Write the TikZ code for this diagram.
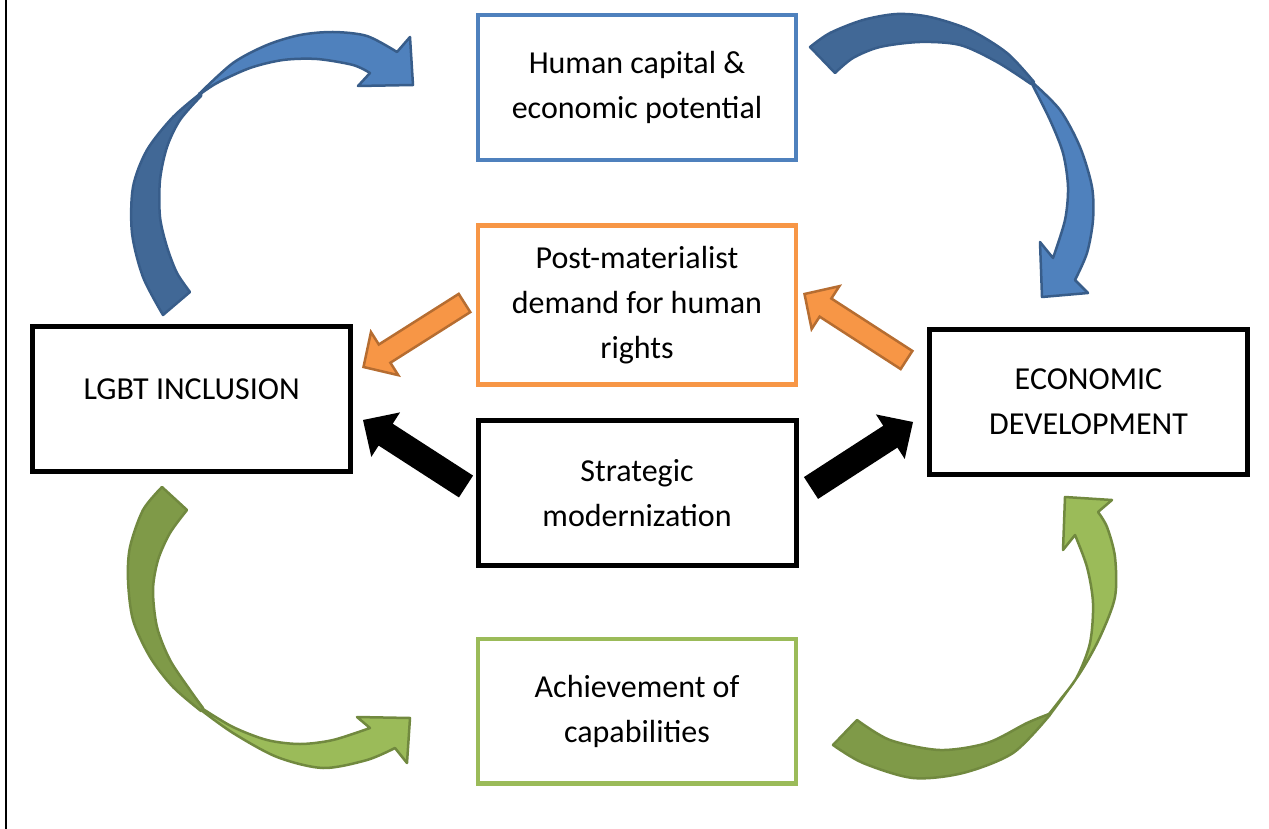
\documentclass[tikz,border=0pt]{standalone}
\usepackage{fontspec}
\setmainfont{Carlito}
\usetikzlibrary{positioning,calc}

\definecolor{AzulClaro}{HTML}{4F81BD}
\definecolor{AzulOscuro}{HTML}{416896}
\definecolor{AzulBorde}{HTML}{385D8A}
\definecolor{Naranja}{HTML}{F79646}
\definecolor{NaranjaBorde}{HTML}{B66D31}
\definecolor{VerdeClaro}{HTML}{9BBB59}
\definecolor{VerdeOscuro}{HTML}{7F9A48}
\definecolor{VerdeBorde}{HTML}{71893F}

\tikzstyle{BaseBox}=[rectangle, draw=black, line width=5pt, minimum width=318pt, minimum height=145pt, inner sep=0pt, align=center, font=\fontsize{32}{45}\selectfont]
\tikzstyle{CapitalBox}=[BaseBox, draw=AzulClaro, line width=4.5pt]
\tikzstyle{DemandBox}=[BaseBox, draw=Naranja, line width=4.5pt, minimum height=159pt]
\tikzstyle{AchieveBox}=[BaseBox, draw=VerdeClaro, line width=4.5pt, minimum height=144.5pt]
\tikzstyle{FlechaNaranja}=[fill=Naranja, draw=NaranjaBorde, line width=2.5pt]
\tikzstyle{FlechaNegra}=[fill=black]
\tikzstyle{FlechaAzul}=[fill=AzulClaro, draw=AzulBorde, line width=2.5pt, line join=round]
\tikzstyle{FlechaAzulOscura}=[FlechaAzul, fill=AzulOscuro]
\tikzstyle{FlechaVerde}=[fill=VerdeClaro, draw=VerdeBorde, line width=2.5pt, line join=round]
\tikzstyle{FlechaVerdeOscura}=[FlechaVerde, fill=VerdeOscuro]

% #1 style, #2 tail, #3 tip, #4 half shaft, #5 half head, #6 head length
\newcommand{\FlechaBloque}[6]{%
	\path[#1] ($(#2)!#4!90:(#3)$)
		-- ($(#3)!#6!(#2)!#4!-90:(#2)$)
		-- ($(#3)!#6!(#2)!#5!-90:(#2)$)
		-- (#3)
		-- ($(#3)!#6!(#2)!#5!90:(#2)$)
		-- ($(#3)!#6!(#2)!#4!90:(#2)$)
		-- ($(#2)!#4!-90:(#3)$) -- cycle;}

\begin{document}
\begin{tikzpicture}[x=1pt, y=-1pt]
			\useasboundingbox (0,0) rectangle (1269,829);
			\draw[line width=2pt] (6,0) -- (6,829);

			%Nodos
			\node[CapitalBox]	(capital)	at (637,87.5)			{Human capital \&\\economic potential};
			\node[DemandBox]	(demand)	[below=61pt of capital]		{Post-materialist\\demand for human\\rights};
			\node[BaseBox]		(strategic)	[below=31.25pt of demand]	{Strategic\\modernization};
			\node[AchieveBox]	(achieve)	[below=68.75pt of strategic]	{Achievement of\\capabilities};
			\node[BaseBox, text depth=21pt]	(lgbt)	at (191.7,399.3)	{LGBT INCLUSION};
			\node[BaseBox]		(econ)		at (1088.5,402)			{ECONOMIC\\DEVELOPMENT};

			\coordinate (demand_src_l)	at (464.5,303);
			\coordinate (lgbt_cons_dem)	at (363.5,367);
			\coordinate (econ_src_dem)	at (906.5,360);
			\coordinate (demand_cons_r)	at (804.5,294);
			\coordinate (strategic_src_l)	at (466,486.5);
			\coordinate (lgbt_cons_str)	at (363,420);
			\coordinate (strategic_src_r)	at (811,488);
			\coordinate (econ_cons_str)	at (913,422);

			%Flechas rectas
			\FlechaBloque{FlechaNaranja}{demand_src_l}{lgbt_cons_dem}{10.8pt}{25.5pt}{25pt}
			\FlechaBloque{FlechaNaranja}{econ_src_dem}{demand_cons_r}{10.8pt}{25.5pt}{25pt}
			\FlechaBloque{FlechaNegra}{strategic_src_l}{lgbt_cons_str}{13pt}{26.5pt}{27pt}
			\FlechaBloque{FlechaNegra}{strategic_src_r}{econ_cons_str}{13pt}{26.5pt}{27pt}

			%Flechas curvas
			\path[FlechaAzulOscura] plot[smooth] coordinates {(163,315) (143,277) (132,233) (133,187) (147,150) (173,117) (201,93)}
				-- plot[smooth] coordinates {(201,96) (180,120) (167,147) (160,180) (160,217) (167,247) (177,273) (190,292)} -- cycle;
			\path[FlechaAzul] plot[smooth] coordinates {(199,94) (233,63) (267,45) (300,35) (333,32) (367,36) (397,52)}
				-- (410,37) -- (413,85) -- (358,86) -- (370,73)
				-- plot[smooth] coordinates {(370,73) (353,65) (317,59) (283,60) (250,68) (217,83) (199,95)} -- cycle;

			\path[FlechaAzulOscura] plot[smooth] coordinates {(810,47) (830,33) (863,20) (897,14) (930,17) (970,30) (1007,53) (1034,82)}
				-- plot[smooth] coordinates {(1031,84) (997,62) (960,45) (920,42) (880,47) (853,58) (835,73)} -- cycle;
			\path[FlechaAzul] plot[smooth] coordinates {(1032,82) (1060,110) (1080,147) (1092,187) (1093,220) (1087,253) (1075,280)}
				-- (1088,293) -- (1042,297) -- (1040,242) -- (1053,258)
				-- plot[smooth] coordinates {(1053,258) (1065,220) (1068,187) (1063,153) (1050,120) (1032,84)} -- cycle;

			\path[FlechaVerdeOscura] plot[smooth] coordinates {(162,487) (143,510) (130,547) (128,580) (133,620) (150,657) (173,687) (201,711)}
				-- plot[smooth] coordinates {(203,708) (190,690) (170,660) (157,627) (153,590) (158,560) (170,533) (187,510)} -- cycle;
			\path[FlechaVerde] plot[smooth] coordinates {(201,710) (233,733) (277,757) (323,768) (367,760) (395,748)}
				-- (407,763) -- (410,718) -- (357,717) -- (370,728)
				-- plot[smooth] coordinates {(370,728) (333,740) (300,744) (267,740) (233,727) (203,709)} -- cycle;

			\path[FlechaVerdeOscura] plot[smooth] coordinates {(833,745) (863,763) (913,778) (963,773) (1013,753) (1049,716)}
				-- plot[smooth] coordinates {(1049,714) (1027,723) (987,743) (940,750) (890,740) (857,720)} -- cycle;
			\path[FlechaVerde] plot[smooth] coordinates {(1049,716) (1080,673) (1100,637) (1115,597) (1115,557) (1107,527) (1098,512)}
				-- (1112,500) -- (1065,497) -- (1063,550) -- (1075,535)
				-- plot[smooth] coordinates {(1075,535) (1087,567) (1093,603) (1090,643) (1077,677) (1060,700) (1049,714)} -- cycle;

		\end{tikzpicture}
\end{document}
